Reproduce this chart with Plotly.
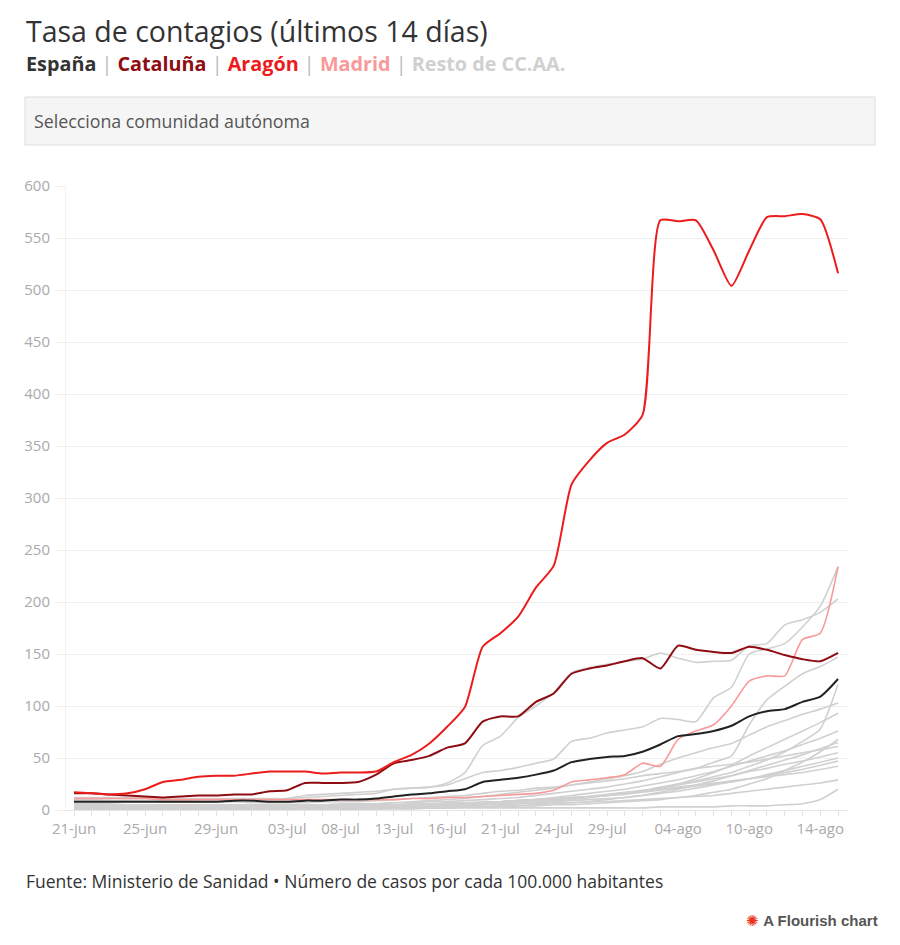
import plotly.graph_objects as go

# Fechas (categorías): diario hasta 03-jul, luego sólo días laborables
dates = [
    "21-jun", "22-jun", "23-jun", "24-jun", "25-jun", "26-jun", "27-jun", "28-jun",
    "29-jun", "30-jun", "01-jul", "02-jul", "03-jul",
    "06-jul", "07-jul", "08-jul", "09-jul", "10-jul",
    "13-jul", "14-jul", "15-jul", "16-jul", "17-jul",
    "20-jul", "21-jul", "22-jul", "23-jul", "24-jul",
    "27-jul", "28-jul", "29-jul", "30-jul", "31-jul",
    "03-ago", "04-ago", "05-ago", "06-ago", "07-ago",
    "10-ago", "11-ago", "12-ago", "13-ago", "14-ago",
    "17-ago",
]
tick_labels = ["21-jun", "25-jun", "29-jun", "03-jul", "08-jul", "13-jul", "16-jul",
               "21-jul", "24-jul", "29-jul", "04-ago", "10-ago", "14-ago"]

espana = [8, 8, 8, 8, 8, 8, 8, 8, 8, 9, 9, 8, 8,
          9, 9, 10, 10, 11, 13, 15, 16, 18, 20,
          27, 29, 31, 34, 38, 46, 49, 51, 52, 56,
          63, 71, 73, 76, 81, 90, 95, 97, 104, 109, 126]
cataluna = [16, 16, 15, 14, 13, 12, 13, 14, 14, 15, 15, 18, 19,
            26, 26, 26, 27, 34, 45, 48, 52, 60, 64,
            85, 90, 90, 104, 112, 131, 136, 139, 143, 146,
            136, 158, 154, 152, 151, 157, 154, 149, 145, 143, 151]
aragon = [17, 16, 15, 16, 20, 27, 29, 32, 33, 33, 35, 37, 37,
          37, 35, 36, 36, 37, 46, 53, 64, 80, 99,
          157, 170, 186, 214, 235, 313, 336, 353, 361, 380,
          567, 566, 567, 538, 504, 538, 570, 571, 573, 568, 516]
madrid = [11, 11, 11, 11, 11, 10, 10, 10, 10, 10, 10, 10, 10,
          10, 10, 10, 10, 10, 10, 11, 11, 12, 12,
          13, 14, 15, 16, 19, 27, 29, 31, 34, 45,
          42, 68, 76, 82, 100, 124, 129, 129, 164, 170, 234]

# Resto de CC.AA.
navarra = [9, 9, 9, 9, 9, 9, 9, 10, 10, 10, 10, 10, 11,
           12, 13, 14, 15, 16, 20, 21, 22, 24, 30,
           36, 38, 41, 45, 49, 66, 69, 74, 77, 80,
           88, 87, 85, 108, 118, 150, 155, 160, 176, 196, 234]
pais_vasco = [12, 12, 12, 12, 12, 11, 11, 11, 11, 11, 11, 11, 11,
              14, 15, 16, 17, 18, 20, 21, 22, 26, 36,
              62, 71, 89, 100, 113, 132, 137, 140, 143, 145,
              151, 146, 142, 143, 144, 158, 160, 178, 183, 190, 203]
la_rioja = [5, 5, 5, 5, 5, 5, 5, 5, 5, 5, 5, 5, 5,
            5, 5, 6, 6, 6, 7, 7, 8, 8, 9,
            10, 11, 12, 14, 16, 18, 20, 22, 25, 28,
            32, 36, 40, 46, 52, 82, 106, 119, 131, 138, 147]
murcia = [3, 3, 3, 3, 3, 3, 3, 3, 3, 3, 3, 3, 3,
          3, 3, 4, 4, 4, 4, 4, 5, 5, 5,
          6, 7, 8, 9, 10, 11, 12, 14, 16, 18,
          22, 25, 28, 32, 36, 42, 48, 56, 66, 78, 121]
baleares = [4, 4, 4, 4, 3, 3, 3, 3, 3, 3, 3, 3, 3,
            4, 4, 5, 5, 6, 7, 8, 9, 10, 11,
            13, 15, 17, 19, 21, 24, 27, 30, 33, 37,
            44, 50, 55, 60, 64, 72, 80, 86, 92, 97, 103]
asturias = [1, 1, 1, 1, 1, 1, 1, 1, 1, 1, 1, 1, 1,
            2, 2, 2, 2, 2, 2, 2, 2, 2, 2,
            2, 2, 2, 2, 2, 2, 2, 2, 2, 2,
            3, 3, 3, 3, 4, 4, 4, 5, 6, 10, 20]
andalucia = [3, 3, 3, 3, 3, 3, 3, 3, 3, 3, 3, 4, 4,
             4, 4, 4, 5, 5, 5, 6, 6, 7, 7,
             8, 8, 9, 10, 11, 12, 13, 14, 15, 17,
             19, 21, 23, 25, 27, 30, 33, 36, 39, 43, 47]
castilla_leon = [10, 10, 9, 9, 9, 8, 8, 8, 8, 8, 7, 7, 7,
                 7, 8, 8, 8, 9, 10, 11, 12, 13, 14,
                 16, 18, 19, 21, 22, 24, 26, 28, 30, 33,
                 35, 37, 40, 42, 44, 46, 49, 52, 55, 58, 61]
castilla_la_mancha = [6, 6, 6, 5, 5, 5, 5, 5, 4, 4, 4, 4, 4,
                      4, 4, 4, 4, 5, 5, 5, 6, 6, 7,
                      7, 8, 9, 10, 11, 12, 13, 14, 16, 18,
                      20, 22, 24, 26, 28, 30, 32, 34, 36, 39, 42]
c_valenciana = [2, 2, 2, 2, 2, 2, 2, 2, 2, 2, 2, 3, 3,
                3, 3, 3, 4, 4, 4, 5, 5, 6, 6,
                7, 8, 9, 10, 11, 12, 13, 15, 17, 19,
                21, 24, 27, 30, 33, 37, 40, 44, 47, 51, 55]
extremadura = [2, 2, 2, 2, 2, 1, 1, 1, 1, 1, 1, 1, 1,
               2, 2, 2, 2, 3, 3, 3, 4, 4, 4,
               5, 5, 6, 6, 7, 7, 8, 8, 9, 10,
               11, 12, 13, 14, 16, 18, 20, 22, 24, 26, 29]
galicia = [1, 1, 1, 1, 1, 1, 1, 1, 1, 1, 1, 1, 1,
           2, 2, 2, 2, 2, 3, 3, 3, 4, 4,
           5, 5, 6, 7, 8, 9, 10, 11, 12, 14,
           16, 18, 21, 24, 27, 30, 34, 38, 42, 46, 50]
canarias = [1, 1, 1, 1, 1, 1, 1, 1, 1, 1, 1, 1, 1,
            1, 1, 1, 1, 1, 2, 2, 2, 2, 3,
            3, 3, 4, 4, 5, 5, 6, 7, 8, 9,
            10, 12, 14, 17, 20, 25, 30, 38, 46, 56, 68]
cantabria = [1, 1, 1, 1, 1, 1, 1, 1, 1, 1, 1, 2, 2,
             2, 2, 2, 2, 3, 3, 3, 4, 4, 5,
             5, 6, 7, 8, 9, 10, 12, 14, 16, 18,
             21, 25, 30, 36, 43, 52, 60, 68, 76, 84, 93]
ceuta = [0, 0, 0, 0, 0, 0, 0, 0, 0, 0, 0, 0, 0,
         0, 0, 0, 1, 1, 1, 1, 2, 2, 3,
         3, 4, 4, 5, 6, 7, 8, 10, 12, 14,
         17, 20, 24, 28, 33, 38, 43, 48, 53, 59, 65]
melilla = [5, 5, 5, 4, 4, 4, 4, 4, 4, 4, 3, 3, 3,
           3, 3, 3, 3, 4, 4, 4, 5, 5, 6,
           7, 8, 9, 10, 12, 14, 16, 18, 20, 23,
           26, 29, 33, 37, 42, 47, 52, 57, 63, 69, 76]

resto = {
    "Navarra": navarra, "País Vasco": pais_vasco, "La Rioja": la_rioja,
    "Murcia": murcia, "Baleares": baleares, "Asturias": asturias,
    "Andalucía": andalucia, "Castilla y León": castilla_leon,
    "Castilla-La Mancha": castilla_la_mancha, "C. Valenciana": c_valenciana,
    "Extremadura": extremadura, "Galicia": galicia, "Canarias": canarias,
    "Cantabria": cantabria, "Ceuta": ceuta, "Melilla": melilla,
}

FONT = "Open Sans"
GREY = "#d0d0d0"

# page has an 8px body margin, so the figure is drawn 8px in from the window edge
OFF = 8
W, H = 900 - 2 * OFF, 945 - 2 * OFF
# plot area in window pixels
L, R, T, B = 66, 848, 186, 810


def px(x):
    return (x - L) / (R - L)


def py(y):
    return (B - y) / (B - T)


fig = go.Figure()

for name, vals in resto.items():
    fig.add_trace(go.Scatter(
        x=dates, y=vals, name=name, mode="lines",
        line=dict(color=GREY, width=1.6, shape="spline", smoothing=0.6),
        hovertemplate=name + "<br>%{x}: %{y}<extra></extra>",
    ))

main = [
    ("Madrid", madrid, "#f89a9a", 1.6),
    ("España", espana, "#222222", 2),
    ("Cataluña", cataluna, "#8e0d12", 2),
    ("Aragón", aragon, "#ec1c1c", 2),
]
for name, vals, color, w in main:
    fig.add_trace(go.Scatter(
        x=dates, y=vals, name=name, mode="lines",
        line=dict(color=color, width=w, shape="spline", smoothing=0.6),
        hovertemplate=name + "<br>%{x}: %{y}<extra></extra>",
    ))

tick_text = [d if d in tick_labels else "" for d in dates]

fig.update_layout(
    width=W, height=H,
    margin=dict(l=L - OFF, r=W - (R - OFF), t=T - OFF, b=H - (B - OFF)),
    paper_bgcolor="white", plot_bgcolor="white",
    showlegend=False,
    font=dict(family=FONT, color="#333333"),
    xaxis=dict(
        type="category", range=[-0.45, 43.56],
        tickmode="array", tickvals=dates, ticktext=tick_text,
        ticks="outside", ticklen=5, tickcolor="#e3e3e3",
        showline=True, linecolor="#e6e6e6", linewidth=1,
        showgrid=False, zeroline=False,
        tickangle=0,
        tickfont=dict(family=FONT, size=15, color="#aaaaaa"),
    ),
    yaxis=dict(
        range=[0, 600], tickvals=list(range(0, 601, 50)),
        showgrid=True, gridcolor="#efefef", gridwidth=1,
        zeroline=False, showline=True, linecolor="#f2f2f2",
        ticks="outside", ticklen=10, tickcolor="#efefef",
        ticklabelstandoff=2,
        tickfont=dict(family=FONT, size=15, color="#aaaaaa"),
    ),
    shapes=[
        dict(type="rect", xref="paper", yref="paper",
             x0=px(25), x1=px(875), y0=py(145), y1=py(97),
             fillcolor="#f5f5f5", line=dict(color="#dddddd", width=1)),
    ],
)

sep = "<span style='color:#bbbbbb'> | </span>"
subtitle = (
    "<b><span style='color:#333333'>España</span></b>" + sep +
    "<b><span style='color:#8e0d12'>Cataluña</span></b>" + sep +
    "<b><span style='color:#ec1c1c'>Aragón</span></b>" + sep +
    "<b><span style='color:#f89a9a'>Madrid</span></b>" + sep +
    "<b><span style='color:#d0d0d0'>Resto de CC.AA.</span></b>"
)

annotations = [
    dict(text="Tasa de contagios (últimos 14 días)", x=px(24), y=py(31),
         font=dict(size=28.5, color="#333333", family=FONT)),
    dict(text=subtitle, x=px(24), y=py(63), font=dict(size=19.8, family=FONT)),
    dict(text="Selecciona comunidad autónoma", x=px(32), y=py(121),
         font=dict(size=17.8, color="#555555", family=FONT)),
    dict(text="Fuente: Ministerio de Sanidad • Número de casos por cada 100.000 habitantes",
         x=px(24), y=py(881), font=dict(size=17.5, color="#333333", family=FONT)),
    dict(text="<span style='color:#e8341c'>✺</span> <b>A Flourish chart</b>",
         x=px(744), y=py(920), font=dict(size=15, color="#555555", family="Liberation Sans")),
]
for a in annotations:
    fig.add_annotation(xref="paper", yref="paper", xanchor="left", yanchor="middle",
                       showarrow=False, align="left", **a)

fig.write_html("out.html")
